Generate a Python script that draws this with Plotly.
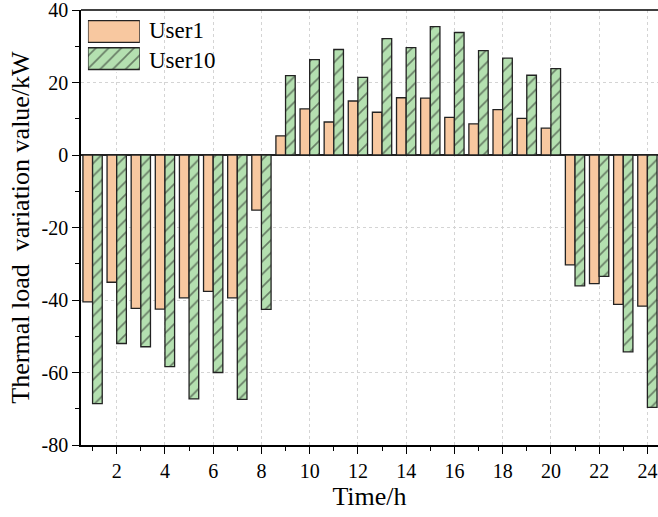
import plotly.graph_objects as go

# Hourly thermal load variation (kW) for two users
hours = list(range(1, 25))
user1 = [-40.5, -35.1, -42.3, -42.5, -39.4, -37.6, -39.4, -15.2,
         5.3, 12.7, 9.1, 14.9, 11.8, 15.8, 15.7, 10.4,
         8.6, 12.5, 10.1, 7.4, -30.3, -35.5, -41.2, -41.7]
user10 = [-68.6, -52.0, -52.9, -58.4, -67.3, -60.0, -67.4, -42.6,
          21.9, 26.3, 29.1, 21.4, 32.1, 29.6, 35.4, 33.8,
          28.8, 26.7, 22.0, 23.8, -36.1, -33.5, -54.3, -69.6]
series_names = ["User1", "User10"]
x_ticks = [2, 4, 6, 8, 10, 12, 14, 16, 18, 20, 22, 24]
y_ticks = [-80, -60, -40, -20, 0, 20, 40]
y_ticktext = [str(v) for v in y_ticks]  # plain hyphen minus

FONT = "Times New Roman, Liberation Serif, serif"
ORANGE = "#F8C8A0"
GREEN = "#B4E0B0"
EDGE = "#222222"
HATCH = dict(shape="/", fgcolor="#1a1a1a", bgcolor=GREEN, size=9, solidity=0.18)

fig = go.Figure()
fig.add_trace(go.Bar(
    x=hours, y=user1, name=series_names[0],
    marker=dict(color=ORANGE, line=dict(color=EDGE, width=1.3)),
))
fig.add_trace(go.Bar(
    x=hours, y=user10, name=series_names[1],
    marker=dict(color=GREEN, line=dict(color=EDGE, width=1.3), pattern=HATCH),
))

# Legend swatches: large keys drawn on a small helper axis pair
fig.add_trace(go.Bar(
    x=[1], y=[series_names[0]], orientation="h", xaxis="x2", yaxis="y2",
    offsetgroup="key", showlegend=False, hoverinfo="skip",
    marker=dict(color=ORANGE, line=dict(color=EDGE, width=1.3)),
))
fig.add_trace(go.Bar(
    x=[1], y=[series_names[1]], orientation="h", xaxis="x2", yaxis="y2",
    offsetgroup="key", showlegend=False, hoverinfo="skip",
    marker=dict(color=GREEN, line=dict(color=EDGE, width=1.3), pattern=HATCH),
))

axis_common = dict(
    showline=True, linecolor="black", linewidth=1.5,
    ticks="outside", ticklen=7, tickwidth=1.3, tickcolor="black",
    tickfont=dict(family=FONT, size=20, color="black"),
    ticklabeloverflow="allow",
    showgrid=True, gridcolor="#d4d4d4", griddash="dot", gridwidth=1,
)

fig.update_layout(
    xaxis=dict(
        **axis_common,
        range=[0.52, 24.44],
        tickvals=x_ticks,
        minor=dict(dtick=1, tick0=1, ticks="outside", ticklen=4,
                   tickcolor="black", showgrid=False),
        title=dict(text="Time/h", font=dict(family=FONT, size=26, color="black"),
                   standoff=6),
        zeroline=False,
    ),
    yaxis=dict(
        **axis_common,
        range=[-80, 40],
        tickvals=y_ticks, ticktext=y_ticktext,
        minor=dict(dtick=10, tick0=0, ticks="outside", ticklen=4,
                   tickcolor="black", showgrid=False),
        zeroline=True, zerolinecolor="#222222", zerolinewidth=1.6,
        title=dict(text="Thermal load  variation value/kW",
                   font=dict(family=FONT, size=26, color="black"), standoff=4),
    ),
    xaxis2=dict(domain=[0.012, 0.102], range=[0, 1], anchor="y2",
                visible=False, fixedrange=True),
    yaxis2=dict(domain=[0.857, 0.982], anchor="x2", type="category",
                categoryorder="array", categoryarray=series_names,
                range=[1.5, -0.5], visible=False, fixedrange=True),
    annotations=[
        dict(text=series_names[0], x=0.114, y=0.953, xref="paper", yref="paper",
             xanchor="left", yanchor="middle", showarrow=False,
             font=dict(family=FONT, size=23, color="black")),
        dict(text=series_names[1], x=0.114, y=0.885, xref="paper", yref="paper",
             xanchor="left", yanchor="middle", showarrow=False,
             font=dict(family=FONT, size=23, color="black")),
    ],
    shapes=[
        # top border line of the plot frame
        dict(type="line", xref="paper", yref="paper", x0=0, x1=1, y0=1, y1=1,
             line=dict(color="black", width=1.5)),
    ],
    width=658, height=517,
    margin=dict(l=81, r=0, t=10, b=72),
    plot_bgcolor="white", paper_bgcolor="white",
    barmode="group", bargap=0.2, bargroupgap=0.0,
    showlegend=False,
)

fig.write_html("out.html")
